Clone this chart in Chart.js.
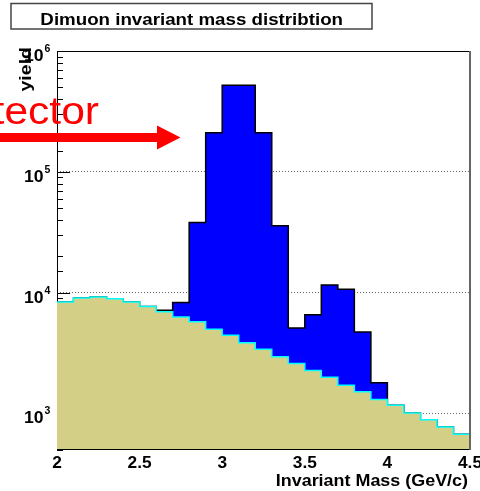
<!DOCTYPE html>
<html>
<head>
<meta charset="utf-8">
<title>Dimuon invariant mass distribtion</title>
<script src="https://cdn.jsdelivr.net/npm/chart.js@4.4.1/dist/chart.umd.min.js"></script>
<style>
  html, body { margin: 0; padding: 0; background: #fff; }
  #massChart { display: block; }
</style>
</head>
<body>
<canvas id="massChart" width="480" height="491"></canvas>
<script>
// Bin edges of the mass histogram (GeV/c)
var binEdges = [2.0, 2.1, 2.2, 2.3, 2.4, 2.5, 2.6, 2.7, 2.8, 2.9, 3.0, 3.1, 3.2,
                3.3, 3.4, 3.5, 3.6, 3.7, 3.8, 3.9, 4.0, 4.1, 4.2, 4.3, 4.4, 4.5];

// Combinatorial background per bin
var background = [8400, 9050, 9200, 8900, 8400, 7700, 6950, 6300, 5750, 5000, 4450, 3850, 3400,
                  2950, 2600, 2270, 2000, 1720, 1520, 1310, 1170, 1010, 890, 775, 675];

// Signal + background per bin
var total = [8400, 9050, 9200, 8900, 8400, 7700, 7150, 8300, 38100, 211000, 520000, 520000, 211000,
             35800, 5110, 6580, 11600, 10700, 4730, 1800, 1170, 1010, 890, 775, 675];

var xTicks = [2, 2.5, 3, 3.5, 4, 4.5];
var xTickLabels = ["2", "2.5", "3", "3.5", "4", "4.5"];
var yDecades = [3, 4, 5, 6];

// turn per-bin counts into step points (last bin closed at the upper edge)
function toSteps(counts) {
    var pts = [];
    for (var i = 0; i < counts.length; i++) {
        pts.push({x: binEdges[i], y: counts[i]});
    }
    pts.push({x: binEdges[binEdges.length - 1], y: counts[counts.length - 1]});
    return pts;
}

function isDecade(v) {
    var l = Math.log10(v);
    return Math.abs(l - Math.round(l)) < 1e-9;
}

// text drawn with a horizontal stretch, anchored at (x, y baseline)
function stretchText(ctx, str, x, y, font, sx, align, color) {
    ctx.save();
    ctx.font = font;
    ctx.fillStyle = color || "#000";
    ctx.textBaseline = "alphabetic";
    ctx.textAlign = align;
    ctx.translate(x, y);
    ctx.scale(sx, 1);
    ctx.fillText(str, 0, 0);
    ctx.restore();
}

var BOLD = "bold 16px 'Liberation Sans', Arial, sans-serif";

// axis ticks under the histograms
var axisUnder = {
    id: "axisUnder",
    beforeDatasetsDraw: function (chart) {
        var ctx = chart.ctx, a = chart.chartArea, ys = chart.scales.y;
        ctx.save();
        ctx.strokeStyle = "#000";
        ctx.lineWidth = 1;
        ctx.beginPath();
        ctx.moveTo(a.left + 0.5, a.top);
        ctx.lineTo(a.left + 0.5, a.bottom);
        ys.ticks.forEach(function (t) {
            var py = Math.round(ys.getPixelForValue(t.value)) + 0.5;
            var len = isDecade(t.value) ? 13 : 6;
            ctx.moveTo(a.left, py);
            ctx.lineTo(a.left + len, py);
        });
        ctx.stroke();
        ctx.restore();
    }
};

// frame, labels, title box and the arrow
var decorations = {
    id: "decorations",
    afterDatasetsDraw: function (chart) {
        var ctx = chart.ctx, a = chart.chartArea;
        ctx.save();
        ctx.strokeStyle = "#000";
        ctx.lineWidth = 1;
        ctx.beginPath();
        ctx.moveTo(a.left, a.top + 0.5);
        ctx.lineTo(a.right, a.top + 0.5);
        ctx.moveTo(a.left, a.bottom - 0.5);
        ctx.lineTo(a.right, a.bottom - 0.5);
        ctx.stroke();
        ctx.strokeStyle = "#666";
        ctx.lineWidth = 2;
        ctx.beginPath();
        ctx.moveTo(a.right, a.top);
        ctx.lineTo(a.right, a.bottom);
        ctx.stroke();
        ctx.restore();
    },
    afterDraw: function (chart) {
        var ctx = chart.ctx, xs = chart.scales.x, ys = chart.scales.y;

        // x tick labels
        xTicks.forEach(function (v, i) {
            stretchText(ctx, xTickLabels[i], xs.getPixelForValue(v), 467.5, BOLD, 1.08, "center");
        });
        stretchText(ctx, "Invariant Mass (GeV/c)", 468, 485.5, BOLD, 1.12, "right");

        // y tick labels 10^n
        yDecades.forEach(function (e) {
            var py = ys.getPixelForValue(Math.pow(10, e));
            stretchText(ctx, "10", 43.5, py + 9.8, BOLD, 1.1, "right");
            stretchText(ctx, String(e), 44.5, py + 0.8, "bold 10px 'Liberation Sans', Arial, sans-serif", 1.05, "left");
        });

        // y axis title
        ctx.save();
        ctx.translate(31, 47);
        ctx.rotate(-Math.PI / 2);
        stretchText(ctx, "yield", 0, 0, "bold 17px 'Liberation Sans', Arial, sans-serif", 1.15, "right");
        ctx.restore();

        // title box
        ctx.save();
        ctx.fillStyle = "#fff";
        ctx.fillRect(11, 3.5, 361, 25.5);
        ctx.strokeStyle = "#444";
        ctx.lineWidth = 1.5;
        ctx.strokeRect(11, 3.5, 361, 25.5);
        ctx.restore();
        stretchText(ctx, "Dimuon invariant mass distribtion", 191.7, 25, BOLD, 1.17, "center");

        // red arrow with its label
        ctx.save();
        ctx.fillStyle = "#ff0000";
        ctx.fillRect(-5, 133, 162, 9);
        ctx.beginPath();
        ctx.moveTo(157, 125.5);
        ctx.lineTo(180.5, 137.5);
        ctx.lineTo(157, 149.5);
        ctx.closePath();
        ctx.fill();
        ctx.restore();
        stretchText(ctx, "tector", 99, 124.3, "38px 'Liberation Sans', Arial, sans-serif", 1.12, "right", "#ff0000");
    }
};

var ctx = document.getElementById("massChart").getContext("2d");
var massChart = new Chart(ctx, {
    type: "line",
    data: {
        datasets: [{
                label: "background",
                data: toSteps(background),
                stepped: "before",
                fill: "start",
                backgroundColor: "#d4cf87",
                borderColor: "#00ffff",
                borderWidth: 1.5,
                pointRadius: 0
            },
            {
                label: "signal + background",
                data: toSteps(total),
                stepped: "before",
                fill: "start",
                backgroundColor: "#0000ff",
                borderColor: "#000000",
                borderWidth: 1.5,
                pointRadius: 0
            }
        ]
    },
    options: {
        responsive: false,
        animation: false,
        layout: {
            padding: {left: 57, top: 51, right: 10, bottom: 41}
        },
        plugins: {
            legend: {display: false},
            tooltip: {enabled: false}
        },
        scales: {
            x: {
                type: "linear",
                min: 2,
                max: 4.5,
                display: false
            },
            y: {
                type: "logarithmic",
                min: 500,
                max: 1000000,
                afterFit: function (s) { s.width = 0; },
                ticks: {display: false},
                border: {display: false, dash: [1, 2]},
                grid: {
                    drawTicks: false,
                    lineWidth: 1,
                    color: function (c) {
                        return (c.tick && isDecade(c.tick.value)) ? "#666" : "rgba(0,0,0,0)";
                    }
                }
            }
        }
    },
    plugins: [axisUnder, decorations]
});
</script>
</body>
</html>
